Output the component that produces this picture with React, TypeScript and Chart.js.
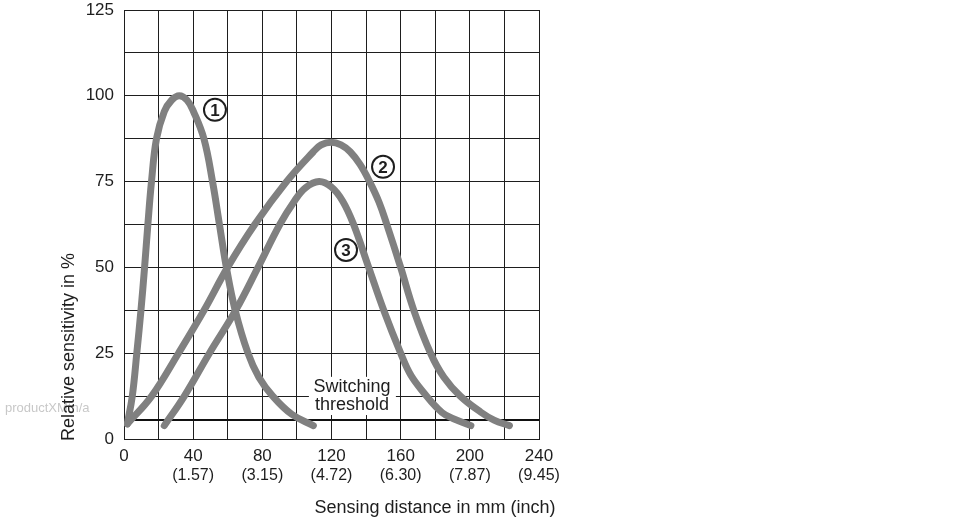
import { useEffect, useRef } from 'react';
import { Chart, registerables } from 'chart.js';
Chart.register(...registerables);

const FONT = '"Liberation Sans", Arial, sans-serif';
const INK = '#1e1e1e';
const CURVE = '#808080';

// Sensing distance (mm) vs relative sensitivity (%)
const curve1: [number, number][] = [
  [1.9, 4.4], [4.8, 12.5], [7.4, 25], [9.8, 37.5], [11.9, 50], [13.8, 62.5], [15.9, 75],
  [18.8, 87.5], [23.3, 95.4], [27.5, 98.7], [32, 100], [36.5, 98.7], [40.2, 95.4], [46.2, 87.5],
  [51.2, 75], [55.2, 62.5], [59.2, 50], [64.3, 37.5], [71.7, 25], [78, 18], [86, 12.5],
  [97, 7.2], [109.5, 3.9],
];
const curve2: [number, number][] = [
  [1.9, 4.4], [16, 12.5], [31.5, 25], [46.3, 37.5], [59.9, 50], [75.6, 62.5], [94, 75],
  [109.5, 83.7], [114, 85.7], [119.8, 86.5], [125.5, 85.7], [130.8, 83.7], [136.5, 80],
  [142, 75], [147.5, 69], [152, 62.5], [160, 50], [167.6, 37.5], [177.3, 25], [185, 18],
  [194.5, 12.5], [206.4, 7.8], [214, 5.5], [222.9, 3.9],
];
const curve3: [number, number][] = [
  [23.3, 3.9], [34.9, 12.5], [49.4, 25], [64.6, 37.5], [77.5, 50], [90.1, 62.5], [98.5, 69.3],
  [105, 73.2], [112.8, 75], [120, 73.4], [126.5, 69.3], [132.8, 62.5], [141.5, 50],
  [150.2, 37.5], [160, 25], [166, 18.5], [175, 12.5], [180, 9.6], [186, 7], [200.6, 3.9],
];
const thresholdValue = 5.5;
const thresholdRange = [2.5, 240];

const mmTicks = [0, 40, 80, 120, 160, 200, 240];
const inchTicks = ['', '(1.57)', '(3.15)', '(4.72)', '(6.30)', '(7.87)', '(9.45)'];
const yLabelTicks = [0, 25, 50, 75, 100, 125];

const curveNames = ['1', '2', '3'];
const curveNameAt: [number, number][] = [[52.6, 95.9], [149.8, 79.3], [128.4, 55.1]];

const xTitle = 'Sensing distance in mm (inch)';
const yTitle = 'Relative sensitivity in %';
const thresholdText = ['Switching', 'threshold'];
const watermark = 'productXMtn/a';

const toPts = (arr: [number, number][]) => arr.map(([x, y]) => ({ x, y }));

const overlay = {
  id: 'overlay',
  beforeDatasetsDraw(chart: any) {
    const { ctx, scales } = chart;
    const xs = scales.x, ys = scales.y;
    const cx = xs.getPixelForValue(131.8);
    const y1 = ys.getPixelForValue(15.2);
    const y2 = ys.getPixelForValue(9.9);
    ctx.save();
    ctx.fillStyle = '#fff';
    ctx.fillRect(cx - 43, y1 - 10, 87, y2 - y1 + 20);
    ctx.fillStyle = INK;
    ctx.font = `18px ${FONT}`;
    ctx.textAlign = 'center';
    ctx.textBaseline = 'middle';
    ctx.fillText(thresholdText[0], cx, y1);
    ctx.fillText(thresholdText[1], cx, y2);
    ctx.restore();
  },
  afterDatasetsDraw(chart: any) {
    const { ctx, scales } = chart;
    ctx.save();
    curveNames.forEach((t, i) => {
      const px = scales.x.getPixelForValue(curveNameAt[i][0]);
      const py = scales.y.getPixelForValue(curveNameAt[i][1]);
      ctx.beginPath();
      ctx.arc(px, py, 11, 0, Math.PI * 2);
      ctx.fillStyle = '#fff';
      ctx.fill();
      ctx.lineWidth = 2;
      ctx.strokeStyle = INK;
      ctx.stroke();
      ctx.fillStyle = INK;
      ctx.font = `bold 17px ${FONT}`;
      ctx.textAlign = 'center';
      ctx.textBaseline = 'middle';
      ctx.fillText(t, px, py + 1);
    });
    ctx.restore();
  },
  afterDraw(chart: any) {
    const { ctx, scales } = chart;
    ctx.save();
    ctx.fillStyle = INK;
    ctx.font = `16px ${FONT}`;
    ctx.textAlign = 'center';
    ctx.textBaseline = 'middle';
    mmTicks.forEach((v, i) => {
      if (!inchTicks[i]) return;
      ctx.fillText(inchTicks[i], scales.x.getPixelForValue(v), 476);
    });
    ctx.fillStyle = '#c8c8c8';
    ctx.font = `13px ${FONT}`;
    ctx.textAlign = 'left';
    ctx.fillText(watermark, 5, 408);
    ctx.fillStyle = INK;
    ctx.font = `18px ${FONT}`;
    ctx.textAlign = 'center';
    ctx.fillText(xTitle, 435, 508);
    ctx.translate(69, 347);
    ctx.rotate(-Math.PI / 2);
    ctx.fillText(yTitle, 0, 0);
    ctx.restore();
  },
};

export default function App() {
  const ref = useRef<HTMLCanvasElement | null>(null);
  useEffect(() => {
    if (!ref.current) return;
    const common = {
      borderColor: CURVE,
      borderWidth: 7,
      borderCapStyle: 'round',
      borderJoinStyle: 'round',
      pointRadius: 0,
      tension: 0.4,
      fill: false,
      order: 0,
    };
    const chart = new Chart(ref.current, {
      type: 'line',
      data: {
        datasets: [
          { ...common, data: toPts(curve1) },
          { ...common, data: toPts(curve2) },
          { ...common, data: toPts(curve3) },
          {
            data: thresholdRange.map((x) => ({ x, y: thresholdValue })),
            borderColor: '#111',
            borderWidth: 2,
            pointRadius: 0,
            fill: false,
            order: 10,
          },
        ] as any,
      },
      options: {
        animation: false,
        responsive: true,
        maintainAspectRatio: false,
        events: [],
        layout: { padding: { left: 0, top: 10, right: 431, bottom: 0 } },
        plugins: { legend: { display: false }, tooltip: { enabled: false } },
        scales: {
          x: {
            type: 'linear',
            min: 0,
            max: 240,
            afterFit: (s: any) => { s.height = 81; },
            grid: { color: INK, lineWidth: 1, drawTicks: false },
            border: { color: INK, width: 1 },
            ticks: {
              stepSize: 20,
              autoSkip: false,
              maxRotation: 0,
              padding: 7,
              color: INK,
              font: { family: FONT, size: 17 },
              callback: (v: any) => (mmTicks.includes(v) ? String(v) : ''),
            },
          },
          y: {
            type: 'linear',
            min: 0,
            max: 125,
            afterFit: (s: any) => { s.width = 124; s.paddingTop = 0; s.paddingBottom = 0; },
            grid: { color: INK, lineWidth: 1, drawTicks: false },
            border: { color: INK, width: 1 },
            ticks: {
              stepSize: 12.5,
              autoSkip: false,
              padding: 10,
              color: INK,
              font: { family: FONT, size: 17 },
              callback: (v: any) => (yLabelTicks.includes(v) ? String(v) : ''),
            },
          },
        },
      } as any,
      plugins: [overlay],
    });
    return () => chart.destroy();
  }, []);
  return (
    <div style={{ position: 'fixed', left: 0, top: 0, width: 970, height: 520, background: '#fff' }}>
      <canvas ref={ref} />
    </div>
  );
}
